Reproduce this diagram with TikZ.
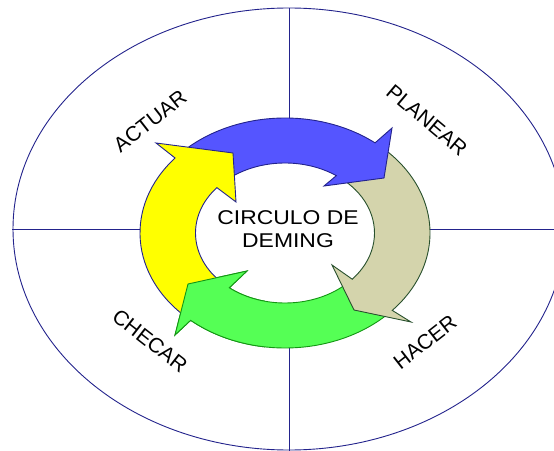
\documentclass[tikz,border=0pt]{standalone}
\usepackage{fontspec}
\setmainfont{Liberation Sans}
\usetikzlibrary{calc}
\definecolor{rimblue}{RGB}{35,35,140}
\definecolor{planfill}{RGB}{85,85,255}
\definecolor{hacfill}{RGB}{212,212,172}
\definecolor{checfill}{RGB}{85,255,85}
\definecolor{actfill}{RGB}{255,255,0}
\definecolor{hacline}{RGB}{40,80,45}
\definecolor{checline}{RGB}{20,150,20}
\newcommand{\checpath}{%
($(c)+(45:145 and 115)$) arc[start angle=45,end angle=130.6,x radius=145,y radius=115]
  -- (175,335) -- (188,284) -- (247,271)
  -- ($(c)+(128.5:89.5 and 70)$) arc[start angle=128.5,end angle=46,x radius=89.5,y radius=70] -- cycle%
}

\begin{document}
\begin{tikzpicture}[x=1bp,y=-1bp,line width=0.9bp,line join=miter,
    rim/.style={draw=rimblue},
    stage/.style={font=\fontsize{20}{23}\selectfont},
    corner/.style={font=\fontsize{21}{24}\selectfont},
    plan/.style={fill=planfill,draw=rimblue},
    hac/.style={fill=hacfill,draw=hacline},
    chec/.style={fill=checfill,draw=checline},
    act/.style={fill=actfill,draw=rimblue}]

		\useasboundingbox (0,0) rectangle (554,451);
		\clip (0,0) rectangle (554,451);

		%  the outer ellipse and its quarters
		\draw[rim] (289,229) ellipse [x radius=276, y radius=221];
		\coordinate (top) at (289,8);
		\coordinate (ringtop) at (289,121);
		\coordinate (ringbot) at (289,345);
		\coordinate (bot) at (289,451);
		\coordinate (left) at (12,229);
		\coordinate (ringleft) at (143,229);
		\coordinate (ringright) at (427,229);
		\coordinate (right) at (554,229);
		\draw[rim] (top) -- (ringtop);
		\draw[rim] (ringbot) -- (bot);
		\draw[rim] (left) -- (ringleft);
		\draw[rim] (ringright) -- (right);

		% centre of the ring of arrows
		\coordinate (c) at (285,233);

		% green arrow (checar), redrawn later over the yellow tail
		\path[chec] \checpath;

		% tan arrow (hacer)
		\path[hac] ($(c)+(-48:145 and 115)$) arc[start angle=-48,end angle=42.3,x radius=145,y radius=115]
			-- (411,322) -- (354,310) -- (332,265)
			-- ($(c)+(41.3:89.5 and 70)$) arc[start angle=41.3,end angle=-50,x radius=89.5,y radius=70] -- cycle;

		% blue arrow (planear)
		\path[plan] ($(c)+(-135:145 and 115)$) arc[start angle=-135,end angle=-51.6,x radius=145,y radius=115]
			-- (392,128) -- (384,178) -- (324,186)
			-- ($(c)+(-55:89.5 and 70)$) arc[start angle=-55,end angle=-127,x radius=89.5,y radius=70] -- cycle;

		% yellow arrow (actuar)
		\path[act] ($(c)+(132:145 and 115)$) arc[start angle=132,end angle=220.7,x radius=145,y radius=115]
			-- (156,143) -- (233,153) -- (236,202)
			-- ($(c)+(220.4:89.5 and 70)$) arc[start angle=220.4,end angle=134,x radius=89.5,y radius=70] -- cycle;

		% head of the green arrow on top of the yellow one
		\begin{scope}
			\clip (150,255) rectangle (265,360);
			\path[chec] \checpath;
		\end{scope}

		% texts
		\node[stage,align=center,xscale=1.15] (title) at (288,229) {CIRCULO DE\\DEMING};
		\node[corner,rotate=38] (actuar) at (150,121) {ACTUAR};
		\node[corner,rotate=-40] (planear) at (427,120) {PLANEAR};
		\node[corner,rotate=-38] (checar) at (150,341) {CHECAR};
		\node[corner,rotate=38] (hacer) at (425,342) {HACER};

	\end{tikzpicture}
\end{document}
